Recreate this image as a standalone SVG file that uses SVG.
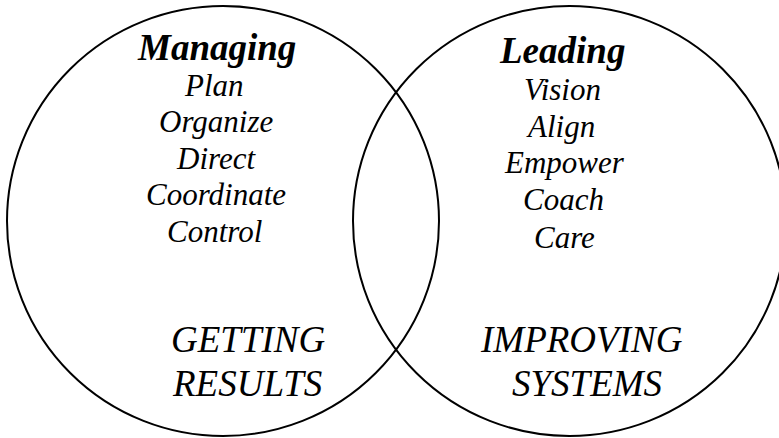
<svg xmlns="http://www.w3.org/2000/svg" width="779" height="438" viewBox="0 0 779 438">
<rect width="779" height="438" fill="#fff"/>
<g id="connectors"></g>
<g id="managing">
<ellipse fill="none" stroke="#000" stroke-width="2" cx="223" cy="221" rx="216" ry="215"/>
<text font-family="Liberation Serif" font-style="italic" font-weight="bold" font-size="37" x="138" y="60">Managing</text>
<text font-family="Liberation Serif" font-style="italic" font-size="31" x="185" y="96">Plan</text>
<text font-family="Liberation Serif" font-style="italic" font-size="31" x="159" y="132">Organize</text>
<text font-family="Liberation Serif" font-style="italic" font-size="31" x="177" y="169">Direct</text>
<text font-family="Liberation Serif" font-style="italic" font-size="31" x="146" y="205">Coordinate</text>
<text font-family="Liberation Serif" font-style="italic" font-size="31" x="167" y="242">Control</text>
<text font-family="Liberation Serif" font-style="italic" font-size="37" x="171" y="352">GETTING</text>
<text font-family="Liberation Serif" font-style="italic" font-size="37" x="173" y="396">RESULTS</text>
</g>
<g id="leading">
<ellipse fill="none" stroke="#000" stroke-width="2" cx="569.5" cy="221" rx="216.5" ry="215"/>
<text font-family="Liberation Serif" font-style="italic" font-weight="bold" font-size="37" x="500" y="63">Leading</text>
<text font-family="Liberation Serif" font-style="italic" font-size="31" x="524" y="100">Vision</text>
<text font-family="Liberation Serif" font-style="italic" font-size="31" x="528" y="137">Align</text>
<text font-family="Liberation Serif" font-style="italic" font-size="31" x="505" y="173">Empower</text>
<text font-family="Liberation Serif" font-style="italic" font-size="31" x="523" y="210">Coach</text>
<text font-family="Liberation Serif" font-style="italic" font-size="31" x="534" y="248">Care</text>
<text font-family="Liberation Serif" font-style="italic" font-size="37" x="481" y="352">IMPROVING</text>
<text font-family="Liberation Serif" font-style="italic" font-size="37" x="512" y="396">SYSTEMS</text>
</g>
</svg>
